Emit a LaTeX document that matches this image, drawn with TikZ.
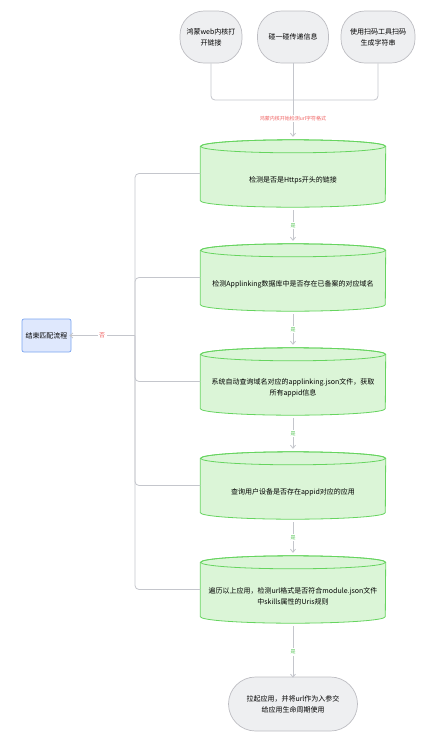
\documentclass[tikz,border=0pt]{standalone}
\usepackage{fontspec}
\setmainfont{Noto Sans CJK SC}
\usepackage{xcolor}
\usetikzlibrary{positioning}
\usetikzlibrary{arrows.meta}

\definecolor{cylfill}{HTML}{DBF5D7}
\definecolor{cyledge}{HTML}{66D45F}
\definecolor{linkgray}{HTML}{C4C6CC}
\definecolor{ovalfill}{HTML}{EEEFF1}
\definecolor{ovaledge}{HTML}{BDBDC2}
\definecolor{endfill}{HTML}{DFE8FD}
\definecolor{endedge}{HTML}{7AA5F0}
\definecolor{notext}{HTML}{F06060}
\definecolor{yestext}{HTML}{5CC85C}

\pgfdeclarelayer{background}
\pgfsetlayers{background,main}

\tikzset{
  cylbody/.style={minimum width=185pt, minimum height=54pt, inner sep=0pt,
    align=center, font=\fontsize{7}{11}\selectfont},
  oval/.style={draw=ovaledge, fill=ovalfill, line width=0.7pt, rounded corners=24pt,
    align=center, inner sep=0pt, font=\fontsize{7}{11}\selectfont},
  endbox/.style={draw=endedge, fill=endfill, line width=0.7pt, rounded corners=2pt,
    minimum width=49pt, minimum height=33pt, inner sep=0pt, font=\fontsize{7}{11}\selectfont},
  link/.style={draw=linkgray, line width=0.8pt},
  arrow/.style={link, -{Straight Barb[length=3pt,width=5pt]}},
  yes/.style={fill=white, text=yestext, inner sep=1.5pt, font=\fontsize{5}{6}\selectfont},
  no/.style={fill=white, text=notext, inner sep=1.5pt, font=\fontsize{6}{7}\selectfont},
}

\begin{document}
\begin{tikzpicture}[x=1pt,y=1pt]
        \useasboundingbox (0,0) rectangle (445,-745);
        % sources
        \node[oval, minimum width=62pt, minimum height=52pt] (src1) at (211,-37) {鸿蒙web内核打\\开链接};
        \node[oval, minimum width=71pt, minimum height=52pt] (src2) at (293,-37) {碰一碰传递信息};
        \node[oval, minimum width=74pt, minimum height=52pt] (src3) at (378,-37) {使用扫码工具扫码\\生成字符串};
        \coordinate (merge) at (293,-100);
        % checks
        \node[cylbody] (c1) at (293,-180) {检测是否是Https开头的链接};
        \node[cylbody] (c2) at (293,-284) {检测Applinking数据库中是否存在已备案的对应域名};
        \node[cylbody] (c3) at (293,-388) {系统自动查询域名对应的applinking.json文件，获取\\所有appid信息};
        \node[cylbody] (c4) at (293,-492) {查询用户设备是否存在appid对应的应用};
        \node[cylbody] (c5) at (293,-596) {遍历以上应用，检测url格式是否符合module.json文件\\中skills属性的Uris规则};
        \node[oval, minimum width=129pt, minimum height=54pt, rounded corners=27pt] (launch) at (293,-704) {拉起应用，并将url作为入参交\\给应用生命周期使用};
        \node[endbox] (stop) at (46.5,-335.5) {结束匹配流程};
        \coordinate (bus) at (135,-335.5);
        % cylinder outlines
        \begin{pgfonlayer}{background}
        \foreach \c in {c1,c2,c3,c4,c5} {
          \filldraw[fill=cylfill, draw=cyledge, line width=0.8pt]
            ([yshift=6.5pt]\c.north west) -- ([yshift=6.5pt]\c.south west)
            arc[start angle=180, end angle=360, x radius=92.5pt, y radius=6.5pt]
            -- ([yshift=6.5pt]\c.north east)
            arc[start angle=0, end angle=180, x radius=92.5pt, y radius=6.5pt];
          \draw[cyledge, line width=0.8pt] ([yshift=6.5pt]\c.north)
            ellipse[x radius=92.5pt, y radius=6.5pt];
        }
        \end{pgfonlayer}
        % source links
        \draw[link, rounded corners=4pt] (src1.south) |- (merge);
        \draw[link, rounded corners=4pt] (src3.south) |- (merge);
        \draw[link] (src2.south) -- (merge);
        \draw[arrow] (merge) -- node[no, font=\fontsize{5}{6}\selectfont] {鸿蒙内核开始检测url字符格式} ([yshift=16pt]c1.north);
        % yes links
        \draw[arrow] ([yshift=-3pt]c1.south) -- node[yes] {是} ([yshift=16pt]c2.north);
        \draw[arrow] ([yshift=-3pt]c2.south) -- node[yes] {是} ([yshift=16pt]c3.north);
        \draw[arrow] ([yshift=-3pt]c3.south) -- node[yes] {是} ([yshift=16pt]c4.north);
        \draw[arrow] ([yshift=-3pt]c4.south) -- node[yes] {是} ([yshift=16pt]c5.north);
        \draw[arrow] ([yshift=-3pt]c5.south) -- node[yes] {是} ([yshift=-1pt]launch.north);
        % no links
        \foreach \c in {c1,c2,c3,c4,c5}
          \draw[link, rounded corners=4pt] ([yshift=6.5pt]\c.west) -| (bus);
        \draw[arrow] (bus) -- node[no] {否} ([xshift=-2pt]stop.east);
\end{tikzpicture}
\end{document}
